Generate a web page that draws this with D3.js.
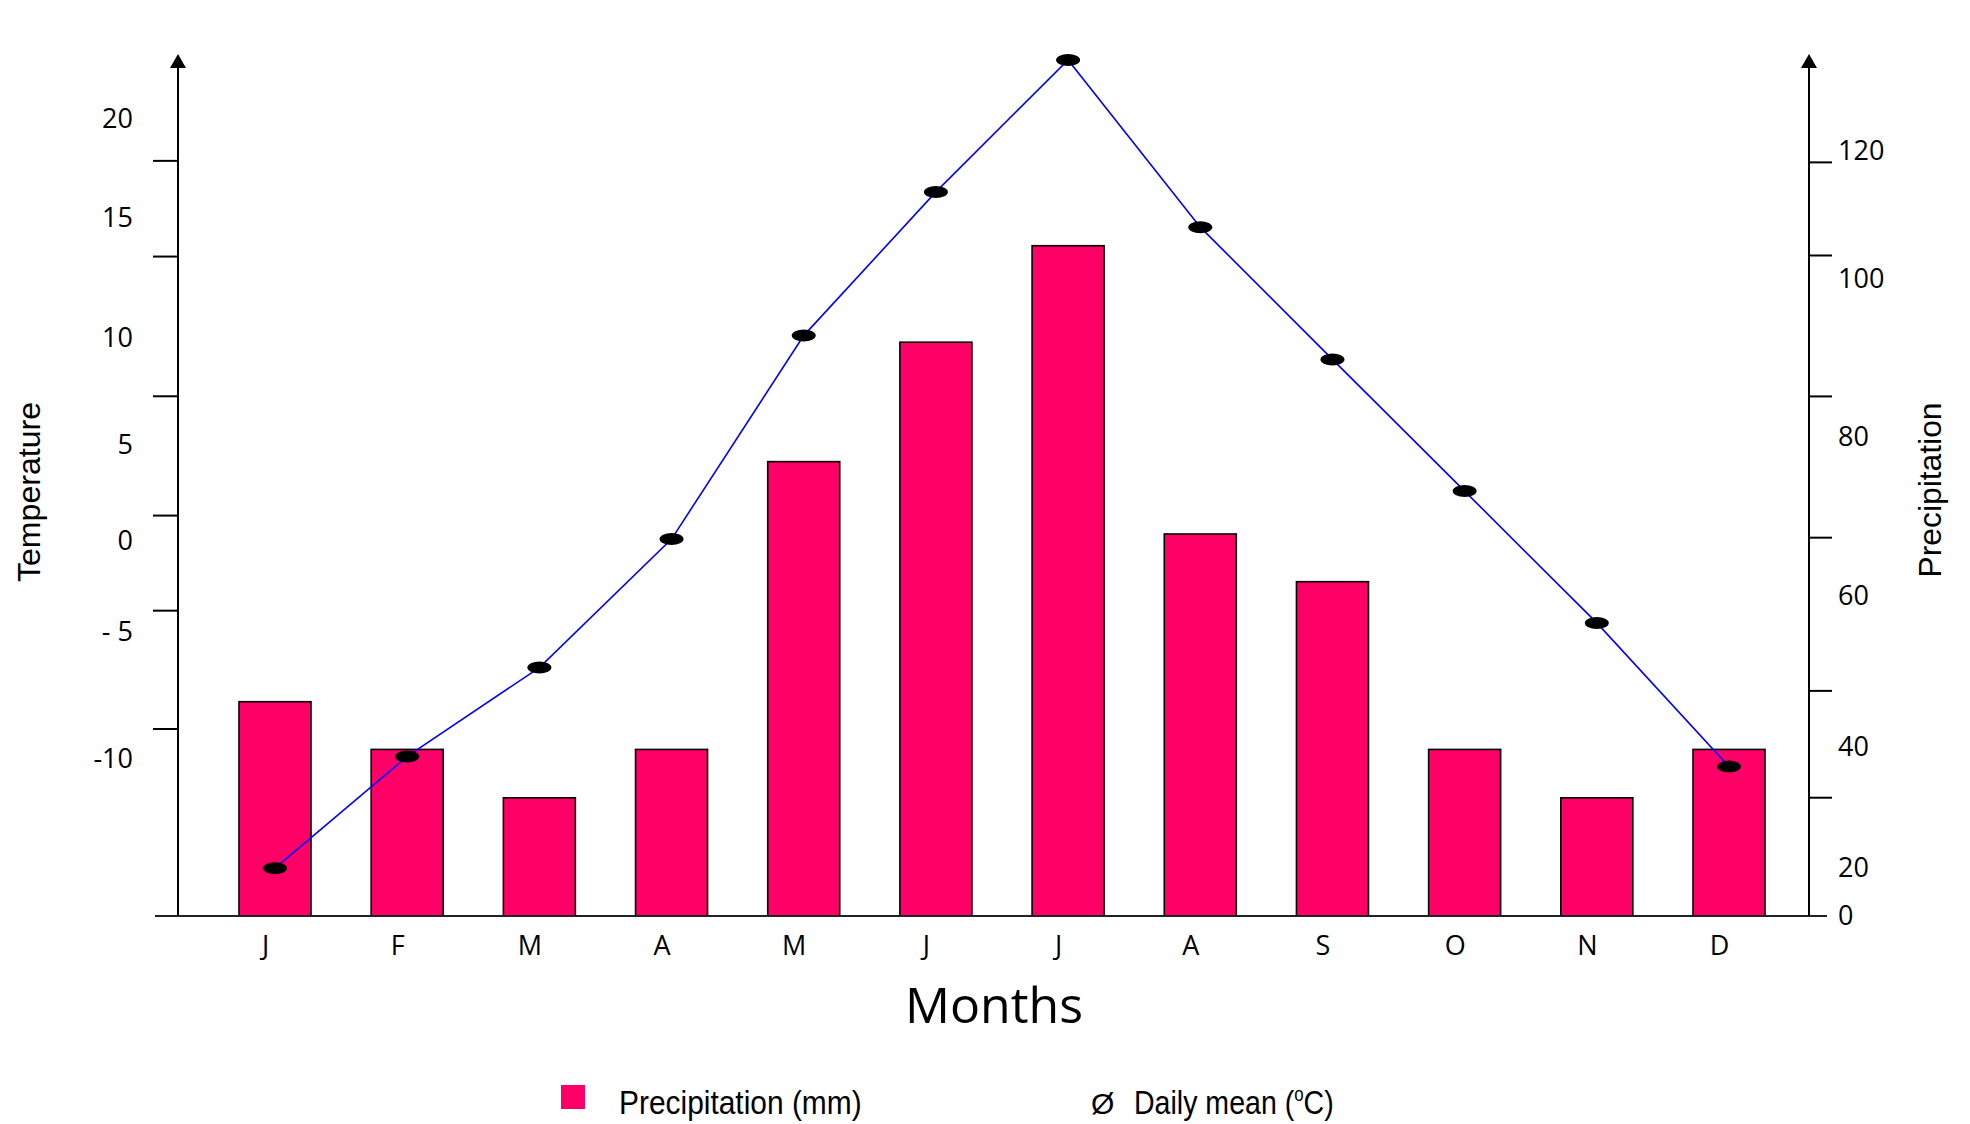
<!DOCTYPE html>
<html><head><meta charset="utf-8">
<script src="https://cdn.jsdelivr.net/npm/d3@7"></script>
<style>
html,body{margin:0;padding:0;background:#fff;}
svg{display:block;}
</style></head>
<body>
<svg id="chart" width="1970" height="1124"></svg>
<script>
// ---- data ----
const months = ["J","F","M","A","M","J","J","A","S","O","N","D"];
const precipitation = [46, 39.6, 31.6, 39.6, 76.9, 92.0, 105.2, 67.8, 61.8, 39.6, 31.6, 39.6];
const temperature = [-14.3, -9.9, -6.4, 0.1, 10.1, 16.3, 23.0, 14.6, 9.0, 2.6, -4.5, -10.3];
const tempTickLabels = [-10, -5, 0, 5, 10, 15, 20];
const tempTickText = ["-10", "- 5", "0", "5", "10", "15", "20"];
const tempTickMarks = [17.9, 13.4, 7.3, 1.35, -3.8, -8.8];
const precipTickLabels = [0, 20, 40, 60, 80, 100, 120];
const precipTickMarks = [118.3, 103.75, 85.2, 67.4, 47.5, 31.7];
const legendLabels = ["Precipitation (mm)", "Daily mean (", "o", "C)", "Ø"];

// ---- layout ----
const svg = d3.select("#chart");
const leftX = 178, rightX = 1809, axisTop = 54;
const barColor = "#ff0066";
const tickFont = "'Open Sans', 'Noto Sans', sans-serif";
const titleFont = "'Liberation Sans', Arial, sans-serif";

const x = d3.scalePoint().domain(d3.range(months.length)).range([275, 1729]);
const yT = d3.scaleLinear().domain(tempTickLabels).range([759, 632, 541, 445, 338, 217.5, 119]);
const yP = d3.scaleLinear().domain(precipTickLabels).range([916, 868, 747, 596, 437, 279, 151]);
const baseY = yP(0);
const barW = 72;

// bars
svg.append("g").selectAll("rect").data(precipitation).join("rect")
  .attr("x", (d, i) => x(i) - barW / 2)
  .attr("y", d => yP(d))
  .attr("width", barW)
  .attr("height", d => baseY - yP(d))
  .attr("fill", barColor)
  .attr("stroke", "#000")
  .attr("stroke-width", 1.6);

// baseline (x axis line)
svg.append("line").attr("x1", 155).attr("x2", 1827).attr("y1", baseY).attr("y2", baseY)
  .attr("stroke", "#222").attr("stroke-width", 2);

// vertical spines with arrows
[leftX, rightX].forEach(ax => {
  svg.append("line").attr("x1", ax).attr("x2", ax).attr("y1", baseY).attr("y2", axisTop + 12)
    .attr("stroke", "#000").attr("stroke-width", 2);
  svg.append("path").attr("d", d3.line()([[ax - 8, axisTop + 14], [ax + 8, axisTop + 14], [ax, axisTop]]) + "Z")
    .attr("fill", "#000");
});

// left tick marks
const gLT = svg.append("g").attr("transform", `translate(${leftX},0)`)
  .call(d3.axisLeft(yT).tickValues(tempTickMarks).tickSize(25).tickFormat(""));
gLT.select(".domain").remove();
gLT.selectAll("line").attr("stroke", "#000").attr("stroke-width", 2);

// left labels
const gLL = svg.append("g").attr("transform", `translate(${leftX},0)`)
  .call(d3.axisLeft(yT).tickValues(tempTickLabels).tickSize(0).tickPadding(45)
    .tickFormat(d => tempTickText[tempTickLabels.indexOf(d)]));
gLL.select(".domain").remove();
gLL.selectAll("text").attr("font-family", tickFont).attr("font-size", 27).attr("fill", "#000");

// right tick marks
const gRT = svg.append("g").attr("transform", `translate(${rightX},0)`)
  .call(d3.axisRight(yP).tickValues(precipTickMarks).tickSize(23).tickFormat(""));
gRT.select(".domain").remove();
gRT.selectAll("line").attr("stroke", "#000").attr("stroke-width", 2);

// right labels
const gRL = svg.append("g").attr("transform", `translate(${rightX},0)`)
  .call(d3.axisRight(yP).tickValues(precipTickLabels).tickSize(0).tickPadding(29));
gRL.select(".domain").remove();
gRL.selectAll("text").attr("font-family", tickFont).attr("font-size", 27).attr("fill", "#000");

// month labels
const gX = svg.append("g").attr("transform", `translate(-10,${baseY})`)
  .call(d3.axisBottom(x).tickSize(0).tickPadding(20).tickFormat(i => months[i]));
gX.select(".domain").remove();
gX.selectAll("text").attr("font-family", tickFont).attr("font-size", 27).attr("fill", "#000");

// temperature line
svg.append("path").datum(temperature)
  .attr("d", d3.line().x((d, i) => x(i)).y(d => yT(d)))
  .attr("fill", "none").attr("stroke", "#0000ff").attr("stroke-width", 1.6);

svg.append("g").selectAll("ellipse").data(temperature).join("ellipse")
  .attr("cx", (d, i) => x(i)).attr("cy", d => yT(d))
  .attr("rx", 12).attr("ry", 6).attr("fill", "#000");

// axis titles
svg.append("text").attr("transform", "translate(40,492) rotate(-90)")
  .attr("text-anchor", "middle").attr("font-family", titleFont)
  .attr("font-size", 32).attr("textLength", 180).attr("lengthAdjust", "spacingAndGlyphs")
  .text("Temperature");
svg.append("text").attr("transform", "translate(1941,490) rotate(-90)")
  .attr("text-anchor", "middle").attr("font-family", titleFont)
  .attr("font-size", 32).attr("textLength", 175).attr("lengthAdjust", "spacingAndGlyphs")
  .text("Precipitation");
svg.append("text").attr("x", 994).attr("y", 1023).attr("text-anchor", "middle")
  .attr("font-family", tickFont).attr("font-size", 50).text("Months");

// legend
svg.append("rect").attr("x", 561).attr("y", 1085).attr("width", 24).attr("height", 24).attr("fill", barColor);
svg.append("g").attr("transform", "translate(619,1114) scale(0.88,1)")
  .append("text").attr("font-family", titleFont).attr("font-size", 34).text(legendLabels[0]);
svg.append("text").attr("x", 1091).attr("y", 1114).attr("font-family", titleFont).attr("font-size", 30)
  .text(legendLabels[4]);
const t2 = svg.append("g").attr("transform", "translate(1134,1114) scale(0.84,1)")
  .append("text").attr("font-family", titleFont).attr("font-size", 34);
t2.append("tspan").text(legendLabels[1]);
t2.append("tspan").attr("dy", -13).attr("font-size", 20).text(legendLabels[2]);
t2.append("tspan").attr("dy", 13).text(legendLabels[3]);
</script>
</body></html>
